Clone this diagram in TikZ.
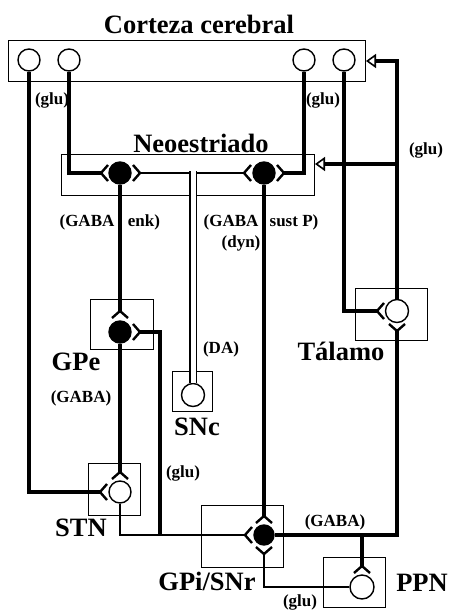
\documentclass[tikz,border=0pt]{standalone}
\usepackage{fontspec}
\setmainfont{Liberation Serif}
\usetikzlibrary{arrows.meta}

\begin{document}
\begin{tikzpicture}[x=1pt, y=-1pt,
    axon/.style={line width=3.5pt},
    thinaxon/.style={line width=2.6pt},
    region/.style={draw, line width=0.9pt},
    cell/.style={circle, draw, line width=1.4pt, minimum size=22pt, inner sep=0pt, fill=white},
    inhib/.style={cell, fill=black},
    big/.style={font=\fontsize{26.5}{28}\selectfont\bfseries, inner sep=0pt},
    small/.style={font=\fontsize{17}{18}\selectfont\bfseries, inner sep=0pt},
    arm/.style={line width=2.4pt},
    glutip/.style={-{Triangle[open, length=10pt, width=14pt, line width=1.6pt]}},
    pics/forkr/.style={code={\draw[arm] (7,-8) -- (0,0) -- (7,8);}},
    pics/forkl/.style={code={\draw[arm] (-7,-8) -- (0,0) -- (-7,8);}},
    pics/forkd/.style={code={\draw[arm] (-8,7) -- (0,0) -- (8,7);}},
    pics/forku/.style={code={\draw[arm] (-8,-7) -- (0,0) -- (8,-7);}}
]
    \useasboundingbox (0,0) rectangle (448,610);

    % regiones
    \draw[region] (8,40) rectangle (365,81);
    \draw[region] (61,154) rectangle (314,195);
    \draw[region] (90,299) rectangle (153,349);
    \draw[region] (172,371) rectangle (212,411);
    \draw[region] (355,288) rectangle (427,340);
    \draw[region] (88,463) rectangle (140,515);
    \draw[region] (201,505) rectangle (283,567);
    \draw[region] (323,557) rectangle (385,607);

    % puntos de llegada y ramas
    \coordinate (strLl) at (101,173);
    \coordinate (strLr) at (140,173);
    \coordinate (strRl) at (244,173);
    \coordinate (strRr) at (284,173);
    \coordinate (gpeT) at (120,311);
    \coordinate (gpeR) at (140,332);
    \coordinate (stnT) at (120,472);
    \coordinate (stnL) at (100,492);
    \coordinate (gpiT) at (264,516);
    \coordinate (gpiL) at (245,535);
    \coordinate (gpiB) at (264,554);
    \coordinate (thalL) at (377,311);
    \coordinate (thalB) at (397,331);
    \coordinate (ppnT) at (362,566);
    \coordinate (stnbr) at (160,535);
    \coordinate (ppnbr) at (362,535);
    \coordinate (thalbr) at (397,164);
    \coordinate (ctxin) at (366,61);
    \coordinate (strin) at (315,164);
    \coordinate (dajoin) at (193,171);

    % neuronas
    \foreach \i/\x in {1/29, 2/69, 3/304, 4/344}
        \node[cell] (cx\i) at (\x,60) {};
    \node[inhib] (strL) at (120,173) {};
    \node[inhib] (strR) at (264,173) {};
    \node[inhib] (gpe) at (120,332) {};
    \node[cell, minimum size=23pt] (snc) at (193,395) {};
    \node[cell, minimum size=23pt] (thal) at (397,311) {};
    \node[cell] (stn) at (120,492) {};
    \node[inhib, minimum size=20pt] (gpi) at (264,535) {};
    \node[cell, minimum size=24pt] (ppn) at (362,587) {};

    % proyecciones
    \draw[axon] (cx1.south) |- (stnL);
    \draw[axon] (cx2.south) |- (strLl);
    \draw[axon] (cx3.south) |- (strRr);
    \draw[axon] (cx4.south) |- (thalL);
    \draw[axon] (strL.south) -- (gpeT);
    \draw[axon] (strR.south) -- (gpiT);
    \draw[axon] (gpe.south) -- (stnT);
    \draw[thinaxon] (stn.south) |- (gpiL);
    \draw[axon] (stnbr) |- (gpeR);
    \draw[axon] (gpi.east) -| (thalB);
    \draw[axon] (ppnbr) -- (ppnT);
    \draw[thinaxon] (ppn.west) -| (gpiB);
    \draw[axon, glutip] (thal.north) |- (ctxin);
    \draw[axon, glutip] (thalbr) -- (strin);
    \draw[thinaxon] (strLr) -- (strRl);
    \draw[line width=1.5pt, double, double distance=5pt] (snc.north) -- (dajoin);

    \foreach \p/\f in {strLl/forkr, strLr/forkl, strRl/forkr, strRr/forkl,
                       gpeT/forkd, gpeR/forkl, stnT/forkd, stnL/forkr,
                       gpiT/forkd, gpiL/forkr, gpiB/forku,
                       thalL/forkr, thalB/forku, ppnT/forkd}
        \pic at (\p) {\f};

    % nombres
    \node[big] (ctxlab) at (199,24) {Corteza cerebral};
    \node[big] (strlab) at (201,143) {Neoestriado};
    \node[big] (gpelab) at (76,362) {GPe};
    \node[big] (snclab) at (197,427) {SNc};
    \node[big] (thallab) at (341,351) {Tálamo};
    \node[big] (stnlab) at (81,528) {STN};
    \node[big] (gpilab) at (207,581) {GPi/SNr};
    \node[big] (ppnlab) at (422,583) {PPN};

    % transmisores
    \node[small] (glu1) at (52,100) {(glu)};
    \node[small] (glu2) at (323,100) {(glu)};
    \node[small] (glu3) at (426,150) {(glu)};
    \node[small] (gaba1) at (87,222) {(GABA};
    \node[small] (enk) at (144,222) {enk)};
    \node[small] (gaba2) at (231,222) {(GABA};
    \node[small] (sustp) at (294,222) {sust P)};
    \node[small] (dyn) at (241,243) {(dyn)};
    \node[small] (da) at (221,349) {(DA)};
    \node[small] (gaba3) at (81,398) {(GABA)};
    \node[small] (glu4) at (183,473) {(glu)};
    \node[small] (gaba4) at (335,522) {(GABA)};
    \node[small] (glu5) at (300,602) {(glu)};
\end{tikzpicture}
\end{document}
